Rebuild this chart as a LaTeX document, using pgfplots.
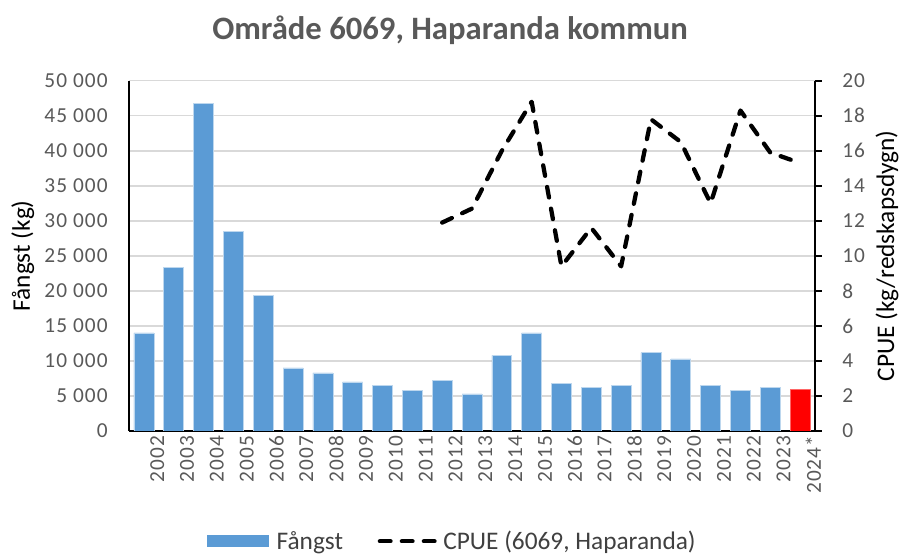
\documentclass[border=0pt]{standalone}
\usepackage{pgfplots}
\pgfplotsset{compat=1.18}
\usepackage{fontspec}
\setmainfont{Carlito}
\newfontfamily\tickfont[LetterSpace=5]{Carlito}
\definecolor{barblue}{HTML}{5B9BD5}
\definecolor{tickgray}{HTML}{595959}
\definecolor{gridgray}{HTML}{D9D9D9}
\definecolor{leggray}{HTML}{404040}
\begin{document}
\begin{tikzpicture}
\path[use as bounding box] (-96.75pt,-93.75pt) rectangle (578.25pt,323.25pt);
\begin{axis}[
  scale only axis, width=514.5pt, height=262.7pt,
  xmin=-0.5, xmax=22.5, ymin=0, ymax=50000,
  scaled y ticks=false,
  axis x line*=bottom, axis y line*=left,
  axis line style={black, line width=1.2pt},
  ybar, bar width=0.67, /pgf/bar shift=0pt,
  xtick={0,...,22},
  xticklabels={2002,2003,2004,2005,2006,2007,2008,2009,2010,2011,2012,2013,2014,2015,2016,2017,2018,2019,2020,2021,2022,2023,2024*},
  xticklabel style={rotate=90, anchor=east, font=\tickfont\fontsize{16}{19}\selectfont, text=tickgray, xshift=0pt, yshift=-10pt},
  ytick={0,5000,10000,15000,20000,25000,30000,35000,40000,45000,50000},
  yticklabels={0,{5 000},{10 000},{15 000},{20 000},{25 000},{30 000},{35 000},{40 000},{45 000},{50 000}},
  yticklabel style={font=\tickfont\fontsize{16}{19}\selectfont, text=tickgray, xshift=-12.5pt},
  major tick length=0pt,
  ymajorgrids, grid style={gridgray, line width=1.1pt},
  every axis y label/.style={at={(axis description cs:-0.155,0.5)}, anchor=center, rotate=90},
  ylabel={Fångst (kg)},
  ylabel style={font=\fontsize{19}{22}\selectfont},
  title={Område 6069, Haparanda kommun},
  every axis title/.style={at={(axis description cs:0.468,1.145)}, anchor=center, font=\fontsize{24.5}{29}\selectfont\bfseries, text=tickgray},
]
\addplot[fill=barblue, draw=white!60!barblue, line width=0.5pt] coordinates {
(0,14000) (1,23300) (2,46800) (3,28500) (4,19300) (5,9000) (6,8300) (7,7000)
(8,6500) (9,5750) (10,7250) (11,5300) (12,10800) (13,14000) (14,6750) (15,6250)
(16,6500) (17,11200) (18,10300) (19,6500) (20,5750) (21,6250)};
\addplot[fill=red, draw=red!60!white, line width=0.5pt] coordinates {(22,6000)};
\end{axis}
\begin{axis}[
  scale only axis, width=514.5pt, height=262.7pt,
  xmin=-0.5, xmax=22.5, ymin=0, ymax=20,
  axis x line=none, axis y line*=right,
  axis line style={black, line width=1.2pt},
  ytick={0,2,...,20},
  yticklabels={0,2,4,6,8,10,12,14,16,18,20},
  yticklabel style={font=\tickfont\fontsize{16}{19}\selectfont, text=tickgray, xshift=12pt},
  tick align=outside, major tick length=5pt, tick style={black, line width=1.2pt},
  every axis y label/.style={at={(axis description cs:1.105,0.5)}, anchor=center, rotate=90},
  ylabel={CPUE (kg/redskapsdygn)},
  ylabel style={font=\fontsize{19}{22}\selectfont},
  legend columns=2,
  legend style={at={(axis description cs:0.472,-0.315)}, anchor=center, draw=none, fill=none,
    font=\fontsize{19}{22}\selectfont, text=leggray,
    /tikz/every even column/.append style={column sep=24pt}},
]
\addlegendimage{legend image code/.code={\fill[barblue, draw=none] (-6pt,-4.5pt) rectangle (40pt,4.5pt); \path[draw=none, fill=none] (-6pt,0pt) rectangle (44pt,0.1pt);}}
\addlegendentry{Fångst}
\addplot[black, line width=3.2pt, line cap=round, line join=round, dash pattern=on 8pt off 8.5pt,
  legend image code/.code={\draw[black, line width=3.2pt, line cap=round, dash pattern=on 8pt off 8.5pt] (0pt,0pt) -- (44pt,0pt);}]
  coordinates {
(10,11.9) (11,12.7) (12,16.0) (13,18.8) (14,9.4) (15,11.6) (16,9.4) (17,17.8)
(18,16.5) (19,13.0) (20,18.3) (21,15.9) (22,15.3)};
\addlegendentry{CPUE (6069, Haparanda)}
\end{axis}
\end{tikzpicture}
\end{document}
